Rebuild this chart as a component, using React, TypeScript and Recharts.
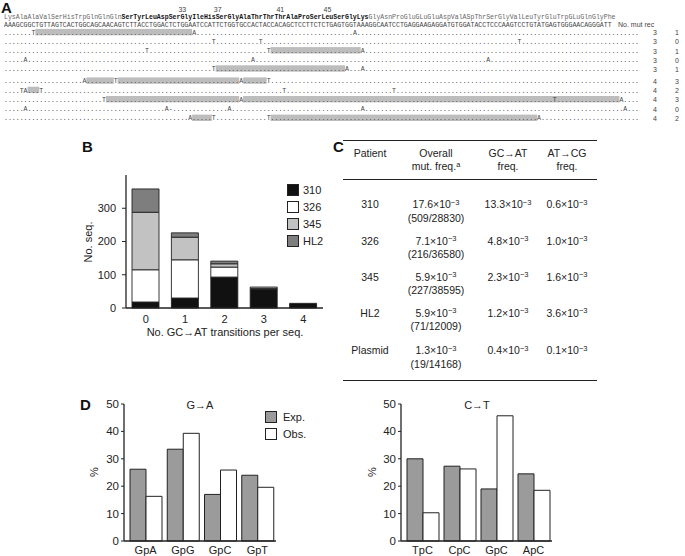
import React from 'react';
import { BarChart, Bar, XAxis, YAxis } from 'recharts';

const FONT = '"Liberation Sans", Arial, Helvetica, sans-serif';
const MONO = '"Liberation Mono", "DejaVu Sans Mono", monospace';
const INK = '#222';

// ---------- panel A: alignment ----------
const proteinBefore = 'LysAlaAlaValSerHisTrpGlnGlnGln';
const proteinCdr = 'SerTyrLeuAspSerGlyIleHisSerGlyAlaThrThrThrAlaProSerLeuSerGlyLys';
const proteinAfter = 'GlyAsnProGluGLuGluAspValASpThrSerGlyValLeuTyrGluTrpGLuGlnGlyPhe';
const dnaSeq =
  'AAAGCGGCTGTTAGTCACTGGCAGCAACAGTCTTACCTGGACTCTGGAATCCATTCTGGTGCCACTACCACAGCTCCTTCTCTGAGTGGTAAAGGCAATCCTGAGGAAGAGGATGTGGATACCTCCCAAGTCCTGTATGAGTGGGAACAGGGATT';
const residueNumbers = ['33', '37', '41', '45'];
const residueNumberCols = [45, 54, 70, 82];

// one entry per clone: [column, base]
const mutations: [number, string][][] = [
  [[7, 'T'], [48, 'A'], [89, 'A']],
  [[53, 'T'], [65, 'T'], [131, 'T']],
  [[36, 'T'], [67, 'T'], [91, 'A']],
  [[5, 'A'], [63, 'A'], [123, 'A']],
  [[53, 'T'], [87, 'A'], [91, 'A']],
  [[20, 'A'], [28, 'T'], [60, 'A'], [67, 'T']],
  [[4, 'T'], [5, 'A'], [9, 'T'], [71, 'T'], [99, 'T']],
  [[25, 'T'], [60, 'A'], [140, 'T'], [157, 'A']],
  [[5, 'A'], [41, 'A'], [42, '-'], [57, 'A'], [91, 'A'], [158, 'A']],
  [[47, 'A'], [53, 'T'], [67, 'T'], [136, 'A']],
];
// shaded stretches (first, last column)
const highlights: [number, number][][] = [
  [[8, 47]],
  [],
  [[68, 90]],
  [],
  [[54, 86]],
  [[21, 27], [29, 59], [61, 66]],
  [[6, 8]],
  [[26, 59], [61, 156]],
  [],
  [[48, 52], [68, 135]],
];
const numMut = [3, 3, 3, 3, 3, 4, 4, 4, 4, 4];
const numRec = [1, 0, 1, 0, 1, 3, 2, 3, 0, 2];

// ---------- panel B ----------
const gcatCategories = ['0', '1', '2', '3', '4'];
const seq310 = [18, 30, 93, 57, 14];
const seq326 = [97, 115, 30, 2, 0];
const seq345 = [173, 68, 10, 4, 0];
const seqHL2 = [70, 13, 8, 0, 0];
const patientSeries = ['310', '326', '345', 'HL2'];
const patientColors = ['#111111', '#ffffff', '#c2c2c2', '#7e7e7e'];
const seqTicks = [0, 100, 200, 300];

// ---------- panel C ----------
const patients = ['310', '326', '345', 'HL2', 'Plasmid'];
const overallFreq = ['17.6', '7.1', '5.9', '5.9', '1.3'];
const overallCounts = ['509/28830', '216/36580', '227/38595', '71/12009', '19/14168'];
const gcatFreq = ['13.3', '4.8', '2.3', '1.2', '0.4'];
const atcgFreq = ['0.6', '1.0', '1.6', '3.6', '0.1'];

// ---------- panel D ----------
const gaContexts = ['GpA', 'GpG', 'GpC', 'GpT'];
const gaExp = [26.2, 33.5, 17, 24];
const gaObs = [16.3, 39.3, 25.9, 19.6];
const ctContexts = ['TpC', 'CpC', 'GpC', 'ApC'];
const ctExp = [30, 27.3, 19, 24.5];
const ctObs = [10.3, 26.3, 45.7, 18.5];
const pctTicks = [0, 10, 20, 30, 40, 50];

const CW = 3.92;
const X0 = 4;
const ROW_LEN = 162;
const MONO_SIZE = 6.5;
const rowY = [33.5, 42.6, 51.7, 60.8, 69.9, 82, 91.3, 100.6, 109.9, 119.2];

const Txt = ({ x, y, children, size = 11, bold = false, anchor = 'middle', rotate = 0, color = INK }: any) => {
  const tx = anchor === 'middle' ? '-50%' : anchor === 'end' ? '-100%' : '0';
  return (
    <div
      style={{
        position: 'absolute', left: x, top: y, fontSize: size, fontWeight: bold ? 'bold' : 'normal',
        lineHeight: 1, whiteSpace: 'nowrap', color,
        transform: `translate(${tx}, -50%)${rotate ? ` rotate(${rotate}deg)` : ''}`,
      }}
    >
      {children}
    </div>
  );
};

const Sci = ({ m }: { m: string }) => (
  <span>
    {m}×10<span style={{ fontSize: '0.72em', position: 'relative', top: '-0.45em' }}>−3</span>
  </span>
);

const rowString = (muts: [number, string][]) => {
  const arr = Array(ROW_LEN).fill('.');
  muts.forEach(([i, b]) => { arr[i] = b; });
  return arr.join('');
};

const Mono = ({ x, y, text, fill = '#444', bold = false }: any) => (
  <text x={x} y={y} fontFamily={MONO} fontSize={MONO_SIZE} fontWeight={bold ? 'bold' : 'normal'} fill={fill}
    textLength={text.length * CW} lengthAdjust="spacingAndGlyphs">{text}</text>
);

const PanelA = () => {
  const bx = X0 + proteinBefore.length * CW;
  const ax = bx + proteinCdr.length * CW;
  return (
    <svg width={685} height={128} style={{ position: 'absolute', left: 0, top: 0 }}>
      <text x={1} y={12.5} fontFamily={FONT} fontWeight="bold" fontSize={15} fill="#111">A</text>
      {residueNumbers.map((n, i) => (
        <text key={n} x={X0 + residueNumberCols[i] * CW + CW / 2} y={12} fontFamily={FONT} fontSize={7} fill="#444" textAnchor="middle">{n}</text>
      ))}
      <Mono x={X0} y={19} text={proteinBefore} fill="#666" />
      <Mono x={bx} y={19} text={proteinCdr} fill="#111" bold />
      <Mono x={ax} y={19} text={proteinAfter} fill="#666" />
      <Mono x={X0} y={26.5} text={dnaSeq} fill="#444" />
      <text x={618} y={26.5} fontFamily={FONT} fontSize={7} fill="#444">No. mut  rec</text>
      {mutations.map((m, r) => (
        <g key={r}>
          {highlights[r].map(([s, e]) => (
            <rect key={s} x={X0 + s * CW} y={rowY[r] - 4.6} width={(e - s + 1) * CW} height={6.4} fill="#bdbdbd" />
          ))}
          <Mono x={X0} y={rowY[r] + 1.2} text={rowString(m)} fill="#444" />
          <text x={655} y={rowY[r] + 1.8} fontFamily={FONT} fontSize={7} fill="#444" textAnchor="middle">{numMut[r]}</text>
          <text x={677} y={rowY[r] + 1.8} fontFamily={FONT} fontSize={7} fill="#444" textAnchor="middle">{numRec[r]}</text>
        </g>
      ))}
    </svg>
  );
};

const axisTick = (size: number) => ({ fill: INK, fontSize: size, fontFamily: FONT });
const axisLine = { stroke: INK, strokeWidth: 1.3 };

const PanelB = () => {
  const data = gcatCategories.map((k, i) => ({ k, '310': seq310[i], '326': seq326[i], '345': seq345[i], HL2: seqHL2[i] }));
  return (
    <div style={{ position: 'absolute', left: 40, top: 160 }}>
      <BarChart width={300} height={200} data={data} margin={{ top: 15, right: 17, bottom: 22, left: 46 }}>
        <XAxis dataKey="k" tickLine={false} axisLine={axisLine} tick={axisTick(11)} tickSize={4} tickMargin={3} height={30} interval={0} />
        <YAxis type="number" domain={[0, 400]} ticks={seqTicks} width={40} axisLine={axisLine} tickLine={{ stroke: INK }} tick={axisTick(11)} tickSize={4} tickMargin={6} />
        {patientSeries.map((s, i) => (
          <Bar key={s} dataKey={s} stackId="seq" fill={patientColors[i]} stroke={INK} strokeWidth={0.9} barSize={27} isAnimationActive={false} />
        ))}
      </BarChart>
    </div>
  );
};

const ContextChart = ({ left, contexts, exp, obs, marginLeft, marginRight }: any) => {
  const data = contexts.map((c: string, i: number) => ({ c, exp: exp[i], obs: obs[i] }));
  return (
    <div style={{ position: 'absolute', left, top: 390 }}>
      <BarChart width={250} height={166} data={data} barGap={0} margin={{ top: 14, right: marginRight, bottom: 0, left: marginLeft }}>
        <XAxis dataKey="c" tickLine={false} axisLine={axisLine} tick={axisTick(11)} tickSize={3} tickMargin={2} height={15} interval={0} padding={{ left: 3, right: 0 }} />
        <YAxis type="number" domain={[0, 50]} ticks={pctTicks} width={40} axisLine={axisLine} tickLine={{ stroke: INK }} tick={axisTick(11.5)} tickSize={3} tickMargin={2} />
        <Bar dataKey="exp" fill="#9b9b9b" stroke={INK} strokeWidth={1} barSize={16} isAnimationActive={false} />
        <Bar dataKey="obs" fill="#ffffff" stroke={INK} strokeWidth={1} barSize={16} isAnimationActive={false} />
      </BarChart>
    </div>
  );
};

const colX = [370, 436, 508, 567];
const rowTop = [204, 240.5, 276.5, 312.5, 350];

const PanelC = () => (
  <>
    <Txt x={333} y={146} size={15} bold anchor="start" color="#111">C</Txt>
    <div style={{ position: 'absolute', left: 343, top: 140, width: 254, borderTop: `1.5px solid ${INK}` }} />
    <div style={{ position: 'absolute', left: 343, top: 178.5, width: 254, borderTop: `1.5px solid ${INK}` }} />
    <div style={{ position: 'absolute', left: 343, top: 379.5, width: 254, borderTop: `1.5px solid ${INK}` }} />
    <Txt x={colX[0]} y={153} size={10.5}>Patient</Txt>
    <Txt x={colX[1]} y={153} size={10.5}>Overall</Txt>
    <Txt x={colX[1]} y={166} size={10.5}>
      mut. freq.<span style={{ fontSize: '0.7em', position: 'relative', top: '-0.45em' }}>a</span>
    </Txt>
    <Txt x={colX[2]} y={153} size={10.5}>GC→AT</Txt>
    <Txt x={colX[2]} y={166} size={10.5}>freq.</Txt>
    <Txt x={colX[3]} y={153} size={10.5}>AT→CG</Txt>
    <Txt x={colX[3]} y={166} size={10.5}>freq.</Txt>
    {patients.map((p, i) => (
      <React.Fragment key={p}>
        <Txt x={colX[0]} y={rowTop[i]} size={10.5}>{p}</Txt>
        <Txt x={colX[1]} y={rowTop[i]} size={10.5}><Sci m={overallFreq[i]} /></Txt>
        <Txt x={colX[1]} y={rowTop[i] + 13.5} size={10.5}>({overallCounts[i]})</Txt>
        <Txt x={colX[2]} y={rowTop[i]} size={10.5}><Sci m={gcatFreq[i]} /></Txt>
        <Txt x={colX[3]} y={rowTop[i]} size={10.5}><Sci m={atcgFreq[i]} /></Txt>
      </React.Fragment>
    ))}
  </>
);

const Swatch = ({ x, y, fill }: any) => (
  <div style={{ position: 'absolute', left: x, top: y, width: 10, height: 10, background: fill, border: `1px solid ${INK}` }} />
);

export default function App() {
  return (
    <div style={{ position: 'absolute', left: 0, top: 0, width: 685, height: 556, overflow: 'hidden', background: '#fff', fontFamily: FONT }}>
      <PanelA />

      <Txt x={82} y={146} size={15} bold anchor="start" color="#111">B</Txt>
      <PanelB />
      <Txt x={88} y={242} size={11} rotate={-90}>No. seq.</Txt>
      <Txt x={225} y={332} size={11}>No. GC→AT transitions per seq.</Txt>
      {patientSeries.map((s, i) => (
        <React.Fragment key={s}>
          <Swatch x={287} y={183.5 + i * 17} fill={patientColors[i]} />
          <Txt x={303} y={189.5 + i * 17} size={11} anchor="start">{s}</Txt>
        </React.Fragment>
      ))}

      <PanelC />

      <Txt x={80} y={404} size={15} bold anchor="start" color="#111">D</Txt>
      <ContextChart left={40} contexts={gaContexts} exp={gaExp} obs={gaObs} marginLeft={44} marginRight={14} />
      <ContextChart left={320} contexts={ctContexts} exp={ctExp} obs={ctObs} marginLeft={41} marginRight={18} />
      <Txt x={94} y={472} size={11} rotate={-90}>%</Txt>
      <Txt x={372} y={472} size={11} rotate={-90}>%</Txt>
      <Txt x={200} y={405} size={11}>G→A</Txt>
      <Txt x={477} y={405} size={11}>C→T</Txt>
      <Swatch x={265} y={411} fill="#9b9b9b" />
      <Txt x={283} y={417} size={11} anchor="start">Exp.</Txt>
      <Swatch x={265} y={428} fill="#ffffff" />
      <Txt x={283} y={434} size={11} anchor="start">Obs.</Txt>
    </div>
  );
}
